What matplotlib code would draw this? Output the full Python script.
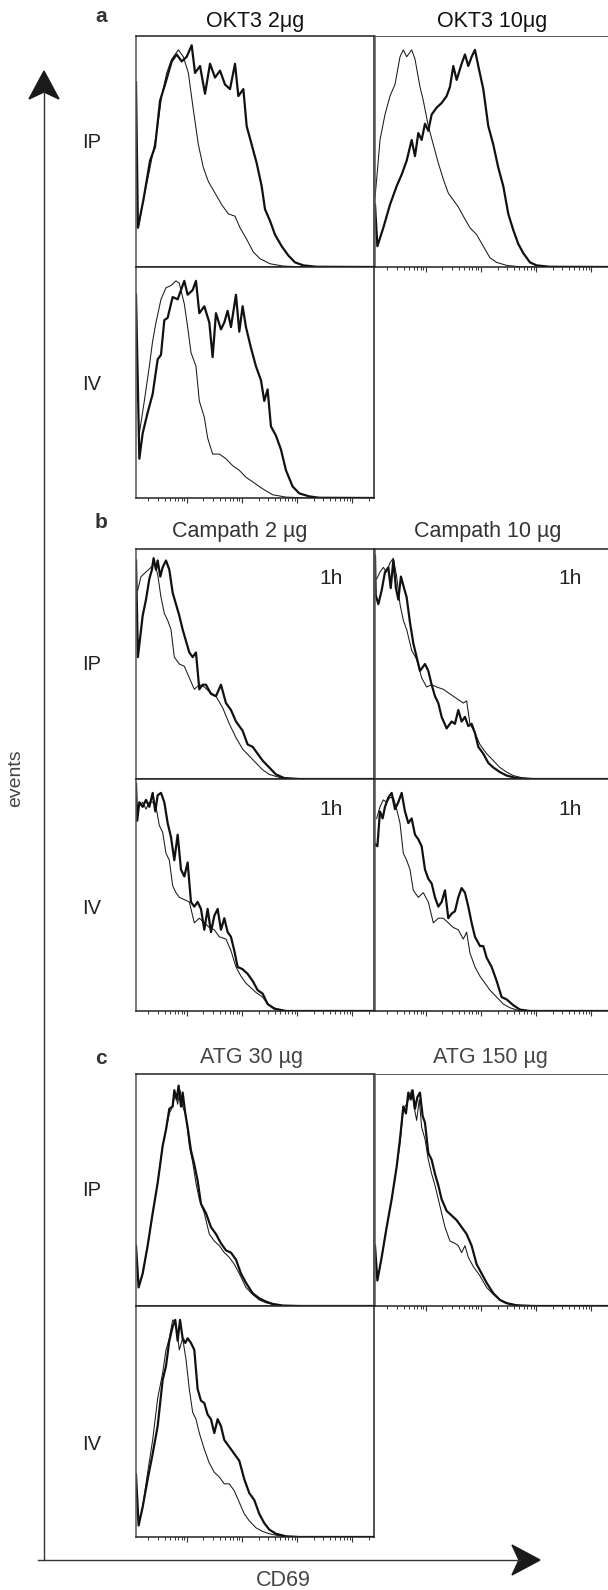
import numpy as np
import matplotlib
matplotlib.use("Agg")
import matplotlib.pyplot as plt
from matplotlib.patches import Polygon

plt.rcParams['font.family'] = ['Liberation Sans', 'DejaVu Sans']

# CD69 histograms: x = channel (0-1000), y = relative events (0-100)
# a) OKT3
okt3_2_ip_thin_x = [10, 31, 59, 87, 108, 129, 150, 178, 199, 220, 241, 262, 283, 304, 332, 360, 388, 416, 437, 465, 493, 521, 563, 619, 689, 1000]
okt3_2_ip_thin_y = [17, 29, 43, 58, 74, 84, 90, 94, 91, 84, 68, 53, 43, 37, 32, 27, 23, 22, 17, 12, 6.5, 3.6, 1.4, 0.4, 0.1, 0]
okt3_2_ip_thick_x = [0, 8, 31, 59, 80, 101, 122, 150, 171, 192, 213, 234, 248, 269, 290, 311, 332, 353, 374, 395, 416, 430, 451, 465, 486, 507, 528, 542, 563, 584, 612, 640, 668, 703, 759, 1000]
okt3_2_ip_thick_y = [80, 17, 29, 46, 52, 72, 79, 89, 92, 89, 91, 96, 84, 87, 75, 88, 82, 85, 79, 77, 88, 74, 77, 61, 53, 45, 35, 25, 20, 14, 9, 5, 2, 0.7, 0.1, 0]

okt3_10_ip_thin_x = [0, 7, 21, 42, 63, 84, 105, 119, 133, 154, 168, 189, 203, 224, 245, 266, 287, 308, 329, 350, 371, 399, 427, 455, 483, 511, 553, 609, 1000]
okt3_10_ip_thin_y = [30, 38, 55, 66, 74, 79, 91, 94, 91, 94, 90, 78, 72, 61, 53, 45, 38, 32, 29, 26, 22, 17, 14, 9, 4, 2, 0.7, 0.1, 0]
okt3_10_ip_thick_x = [0, 10, 35, 63, 91, 112, 133, 154, 168, 182, 196, 210, 224, 238, 259, 280, 301, 315, 329, 343, 364, 378, 392, 406, 420, 434, 455, 476, 497, 518, 539, 560, 581, 602, 623, 651, 679, 735, 1000]
okt3_10_ip_thick_y = [27, 9, 17, 27, 35, 40, 46, 55, 48, 58, 55, 62, 59, 66, 69, 71, 74, 78, 87, 81, 88, 92, 87, 91, 94, 87, 77, 61, 53, 43, 35, 23, 16, 10, 6, 2, 0.7, 0.1, 0]

okt3_2_iv_thin_x = [14, 35, 56, 70, 84, 105, 126, 147, 168, 182, 203, 217, 231, 252, 266, 287, 301, 322, 350, 378, 406, 434, 462, 490, 532, 574, 630, 714, 1000]
okt3_2_iv_thin_y = [28, 42, 57, 68, 76, 86, 91, 92, 94, 93, 84, 74, 63, 57, 42, 35, 26, 19, 19, 17, 14, 12, 9, 7, 4, 1.4, 0.4, 0, 0]
okt3_2_iv_thick_x = [0, 14, 28, 49, 70, 91, 105, 119, 133, 154, 175, 189, 203, 217, 238, 252, 266, 287, 308, 322, 336, 357, 371, 385, 399, 420, 434, 448, 462, 483, 504, 525, 539, 553, 567, 588, 609, 630, 658, 686, 728, 770, 1000]
okt3_2_iv_thick_y = [88, 17, 28, 37, 45, 60, 62, 77, 78, 87, 86, 90, 94, 88, 90, 94, 80, 83, 76, 61, 80, 73, 76, 81, 74, 88, 72, 83, 74, 65, 57, 51, 42, 47, 31, 27, 21, 12, 5, 2, 0.7, 0.1, 0]

# b) Campath
camp_2_ip_thin_x = [7, 21, 42, 63, 77, 91, 105, 119, 133, 147, 161, 182, 203, 224, 245, 266, 287, 308, 336, 364, 392, 420, 448, 476, 504, 532, 560, 602, 658, 1000]
camp_2_ip_thin_y = [82, 88, 90, 92, 94, 89, 79, 72, 69, 65, 53, 50, 49, 44, 39, 41, 40, 38, 36, 31, 24, 18, 13, 10, 7, 4, 2, 0.7, 0.1, 0]
camp_2_ip_thick_x = [0, 8, 28, 42, 56, 67, 74, 84, 91, 102, 112, 126, 140, 154, 168, 182, 196, 210, 224, 238, 252, 266, 280, 294, 315, 336, 357, 378, 399, 420, 448, 469, 490, 511, 532, 560, 588, 623, 686, 1000]
camp_2_ip_thick_y = [95, 53, 71, 78, 87, 91, 96, 91, 95, 88, 92, 95, 91, 81, 76, 71, 65, 60, 55, 53, 55, 39, 41, 41, 37, 36, 41, 33, 30, 25, 21, 15, 14, 11, 8, 5, 2, 0.4, 0, 0]

camp_10_ip_thin_x = [7, 21, 35, 49, 63, 77, 91, 105, 119, 133, 154, 175, 196, 217, 238, 259, 287, 315, 343, 371, 385, 399, 420, 441, 469, 497, 525, 553, 581, 623, 665, 1000]
camp_10_ip_thin_y = [87, 90, 92, 90, 94, 96, 88, 76, 69, 65, 56, 52, 44, 40, 41, 40, 39, 37, 35, 33, 34, 24, 20, 15, 11, 8, 5, 3, 1.5, 0.4, 0, 0]
camp_10_ip_thick_x = [0, 3, 14, 28, 42, 56, 66, 77, 88, 98, 109, 122, 133, 147, 161, 175, 189, 210, 224, 238, 252, 266, 280, 301, 322, 336, 350, 364, 378, 392, 406, 420, 434, 455, 476, 497, 525, 553, 595, 665, 1000]
camp_10_ip_thick_y = [97, 80, 76, 82, 90, 92, 83, 95, 83, 78, 88, 83, 79, 68, 59, 53, 47, 50, 47, 41, 36, 33, 27, 22, 25, 24, 30, 25, 27, 23, 24, 20, 14, 11, 7, 5, 3, 1.5, 0.4, 0, 0]

camp_2_iv_thin_x = [11, 28, 42, 56, 70, 84, 98, 112, 126, 140, 154, 168, 182, 203, 224, 245, 266, 287, 308, 329, 350, 378, 399, 420, 441, 462, 483, 504, 532, 553, 588, 630, 1000]
camp_2_iv_thin_y = [88, 90, 87, 90, 90, 88, 80, 77, 68, 65, 54, 51, 49, 48, 47, 38, 40, 38, 36, 35, 32, 31, 26, 19, 15, 12, 10, 8, 6, 3, 1, 0, 0]
camp_2_iv_thick_x = [0, 5, 14, 28, 42, 56, 70, 81, 91, 105, 119, 133, 147, 161, 175, 189, 203, 217, 231, 245, 259, 273, 287, 301, 315, 329, 343, 357, 371, 385, 399, 413, 427, 448, 469, 490, 511, 532, 553, 581, 630, 1000]
camp_2_iv_thick_y = [98, 82, 90, 88, 91, 88, 94, 86, 93, 94, 90, 81, 75, 65, 76, 61, 58, 64, 47, 45, 47, 44, 35, 44, 34, 41, 44, 35, 40, 34, 32, 26, 19, 18, 16, 13, 9, 7.5, 3, 1, 0, 0]

camp_10_iv_thin_x = [7, 21, 35, 49, 63, 77, 91, 105, 119, 133, 147, 161, 182, 203, 224, 245, 266, 287, 308, 329, 350, 371, 385, 399, 420, 441, 462, 483, 511, 539, 567, 609, 1000]
camp_10_iv_thin_y = [83, 88, 91, 90, 92, 92, 87, 81, 68, 65, 61, 52, 49, 51, 47, 38, 40, 40, 38, 36, 35, 31, 34, 25, 19, 15, 12, 9, 6, 3, 1.4, 0, 0]
camp_10_iv_thick_x = [0, 10, 21, 32, 42, 56, 70, 84, 98, 112, 126, 140, 154, 168, 182, 196, 210, 224, 238, 252, 266, 280, 294, 308, 322, 336, 350, 364, 378, 392, 406, 420, 441, 455, 469, 490, 511, 532, 553, 581, 609, 651, 1000]
camp_10_iv_thick_y = [72, 71, 86, 83, 88, 92, 94, 87, 90, 94, 86, 81, 83, 76, 74, 71, 61, 57, 55, 49, 45, 47, 52, 40, 42, 43, 49, 53, 51, 45, 38, 32, 28, 28, 23, 19, 13, 6, 5, 2.5, 0.6, 0, 0]

# c) ATG
atg_30_ip_thin_x = [11, 28, 49, 70, 91, 112, 126, 140, 154, 165, 175, 185, 196, 210, 224, 238, 252, 266, 287, 308, 329, 350, 371, 392, 413, 434, 462, 490, 518, 546, 588, 644, 1000]
atg_30_ip_thin_y = [8, 14, 26, 40, 53, 69, 76, 83, 86, 92, 87, 93, 86, 82, 69, 62, 53, 46, 40, 31, 28, 26, 23, 21, 18, 14, 8, 5, 2.6, 1.4, 0.4, 0, 0]
atg_30_ip_thick_x = [0, 11, 28, 49, 70, 91, 112, 126, 140, 154, 161, 171, 179, 189, 196, 207, 217, 231, 245, 259, 273, 294, 315, 336, 357, 378, 399, 420, 441, 462, 490, 518, 546, 574, 616, 686, 1000]
atg_30_ip_thick_y = [26, 8, 14, 26, 40, 53, 69, 76, 85, 86, 93, 89, 95, 86, 92, 83, 77, 67, 61, 54, 44, 40, 34, 31, 27, 24, 23, 20, 14, 10, 5.5, 3.3, 1.9, 0.9, 0.2, 0, 0]

atg_150_ip_thin_x = [10, 28, 49, 70, 91, 105, 119, 133, 144, 154, 164, 175, 186, 196, 210, 224, 238, 252, 266, 280, 294, 315, 336, 350, 364, 378, 392, 413, 441, 469, 497, 525, 567, 623, 1000]
atg_150_ip_thin_y = [11, 21, 34, 46, 60, 70, 85, 87, 90, 93, 86, 80, 89, 77, 72, 63, 57, 52, 46, 40, 34, 28, 27, 26, 23, 26, 21, 17, 13, 8, 5, 2.6, 0.9, 0, 0]
atg_150_ip_thick_x = [0, 10, 28, 49, 70, 91, 105, 119, 130, 140, 150, 158, 168, 178, 189, 200, 210, 224, 238, 252, 266, 280, 301, 322, 343, 364, 385, 406, 427, 448, 469, 497, 525, 553, 595, 665, 1000]
atg_150_ip_thick_y = [26, 11, 21, 34, 46, 60, 72, 86, 83, 92, 89, 93, 85, 90, 92, 82, 79, 66, 63, 57, 52, 46, 41, 39, 37, 34, 31, 26, 18, 14, 10, 5.5, 2.6, 1.2, 0.3, 0, 0]

atg_30_iv_thin_x = [11, 28, 49, 70, 91, 112, 126, 140, 154, 168, 182, 196, 210, 224, 238, 252, 266, 287, 308, 329, 350, 371, 392, 413, 434, 455, 476, 504, 532, 560, 602, 644, 1000]
atg_30_iv_thin_y = [5, 13, 28, 42, 60, 71, 81, 86, 94, 92, 81, 86, 77, 64, 54, 51, 45, 38, 32, 28, 26, 23, 23, 20, 15, 10, 7, 4, 2.4, 1.4, 0.5, 0, 0]
atg_30_iv_thick_x = [0, 11, 28, 49, 70, 91, 112, 126, 140, 154, 165, 175, 185, 196, 207, 217, 231, 245, 259, 273, 287, 301, 315, 329, 343, 357, 371, 392, 413, 434, 455, 476, 497, 518, 539, 560, 588, 630, 686, 1000]
atg_30_iv_thick_y = [27, 5, 13, 25, 36, 48, 68, 74, 85, 91, 94, 85, 94, 86, 84, 86, 84, 81, 64, 59, 58, 53, 51, 45, 51, 48, 42, 39, 36, 33, 25, 19, 16, 10, 6, 3.2, 1.4, 0.3, 0, 0]

titles = ["OKT3 2μg", "OKT3 10μg", "Campath 2 µg", "Campath 10 µg", "ATG 30 µg", "ATG 150 µg"]
row_labels = ["IP", "IV"]
section_labels = ["a", "b", "c"]

W, H = 608, 1590
fig = plt.figure(figsize=(W / 100, H / 100), dpi=100)

over = fig.add_axes([0, 0, 1, 1])
over.set_xlim(0, W)
over.set_ylim(H, 0)
over.axis('off')

# decade ticks on the log CD69 scale (channel = 231.3 per decade)
major_ch = [(d - 0.075) * 231.3 for d in range(1, 5)]
minor_ch = []
for d in range(0, 5):
    for m in range(2, 10):
        c = (d + np.log10(m) - 0.075) * 231.3
        if 0 < c < 1000:
            minor_ch.append(c)


def panel(x0, x1, y0, y1, thin_x, thin_y, thick_x, thick_y, label=None, right=False):
    ax = fig.add_axes([x0 / W, 1 - y1 / H, (x1 - x0) / W, (y1 - y0) / H])
    ax.plot(thin_x, thin_y, color='#1a1a1a', lw=0.75)
    ax.plot(thick_x, thick_y, color='#111111', lw=1.6)
    ax.set_xlim(0, 1000)
    ax.set_ylim(0, 100)
    for s in ax.spines.values():
        s.set_color('#222222')
        s.set_linewidth(1.1)
    ax.spines['left'].set_color('#555555')
    if right:
        ax.spines['top'].set_linewidth(0.7)
        ax.spines['top'].set_color('#555555')
    ax.set_yticks([])
    ax.set_xticks(major_ch)
    ax.set_xticks(minor_ch, minor=True)
    ax.tick_params(axis='x', which='major', direction='out', length=3.5, width=0.8, color='#333333', labelbottom=False)
    ax.tick_params(axis='x', which='minor', direction='out', length=1.8, width=0.7, color='#333333')
    if label:
        ax.text(0.82, 0.87, label, transform=ax.transAxes, ha='center', va='center', fontsize=15, color='#222222')
    return ax


colL = (136, 374)
colR = (375, 613)

# a
panel(*colL, 36, 267, okt3_2_ip_thin_x, okt3_2_ip_thin_y, okt3_2_ip_thick_x, okt3_2_ip_thick_y)
panel(*colR, 36, 267, okt3_10_ip_thin_x, okt3_10_ip_thin_y, okt3_10_ip_thick_x, okt3_10_ip_thick_y, right=True)
panel(*colL, 267, 498, okt3_2_iv_thin_x, okt3_2_iv_thin_y, okt3_2_iv_thick_x, okt3_2_iv_thick_y)
# b
panel(*colL, 549, 779, camp_2_ip_thin_x, camp_2_ip_thin_y, camp_2_ip_thick_x, camp_2_ip_thick_y, '1h')
panel(*colR, 549, 779, camp_10_ip_thin_x, camp_10_ip_thin_y, camp_10_ip_thick_x, camp_10_ip_thick_y, '1h')
panel(*colL, 779, 1011, camp_2_iv_thin_x, camp_2_iv_thin_y, camp_2_iv_thick_x, camp_2_iv_thick_y, '1h')
panel(*colR, 779, 1011, camp_10_iv_thin_x, camp_10_iv_thin_y, camp_10_iv_thick_x, camp_10_iv_thick_y, '1h')
# c
panel(*colL, 1074, 1306, atg_30_ip_thin_x, atg_30_ip_thin_y, atg_30_ip_thick_x, atg_30_ip_thick_y)
panel(*colR, 1074, 1306, atg_150_ip_thin_x, atg_150_ip_thin_y, atg_150_ip_thick_x, atg_150_ip_thick_y, right=True)
panel(*colL, 1306, 1537, atg_30_iv_thin_x, atg_30_iv_thin_y, atg_30_iv_thick_x, atg_30_iv_thick_y)

# titles and labels
title_pos = [(255, 21), (492, 21), (240, 532), (488, 532), (252, 1058), (490, 1058)]
title_col = ['#111111', '#111111', '#333333', '#333333', '#444444', '#444444']
for t, (x, y), c in zip(titles, title_pos, title_col):
    over.text(x, y, t, ha='center', va='center', fontsize=15.5, color=c)

for s, y in zip(section_labels, [17, 522, 1058]):
    over.text(101, y, s, ha='center', va='center', fontsize=15, fontweight='bold', color='#333333')

for y_ip, y_iv in [(143, 385), (664, 909), (1190, 1444)]:
    over.text(92, y_ip, row_labels[0], ha='center', va='center', fontsize=14.5, color='#222222')
    over.text(92, y_iv, row_labels[1], ha='center', va='center', fontsize=14.5, color='#222222')

over.text(16, 778, 'events', rotation=90, ha='center', va='center', fontsize=14, color='#444444')
over.text(283, 1581, 'CD69', ha='center', va='center', fontsize=15.5, color='#444444')

# axis arrows with notched heads
over.plot([44, 44], [1560, 92], color='#333333', lw=1.0)
over.plot([38, 520], [1560, 1560], color='#333333', lw=1.0)
over.add_patch(Polygon([(44, 71), (29, 99), (44, 92), (59, 99)], closed=True, color='#1a1a1a'))
over.add_patch(Polygon([(540, 1560), (512, 1545), (519, 1560), (512, 1575)], closed=True, color='#1a1a1a'))

fig.savefig('out.png', dpi=100)
